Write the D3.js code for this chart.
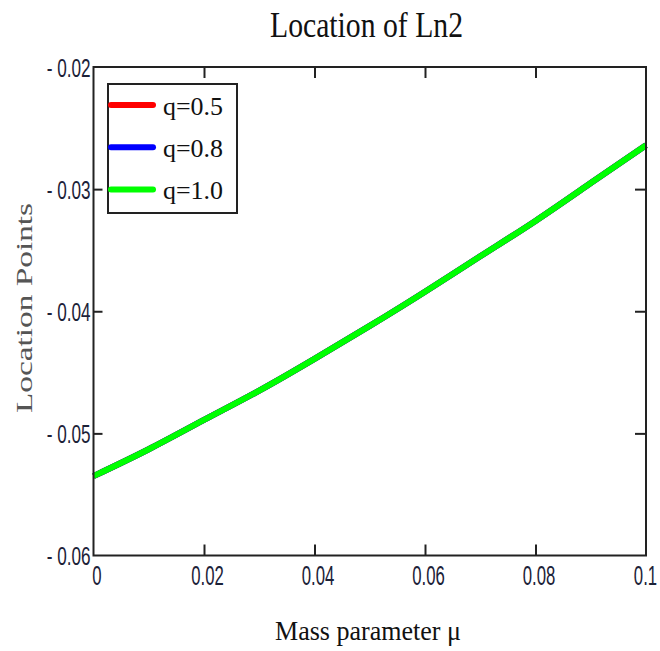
<!DOCTYPE html>
<html>
<head>
<meta charset="utf-8">
<script src="https://cdn.jsdelivr.net/npm/d3@7"></script>
<style>
  body { margin: 0; background: #fff; }
  svg { display: block; }
</style>
</head>
<body>
<div id="chart"></div>
<script>
// dimensions
const width = 660;
const height = 651;
const plot = { left: 93.5, right: 646, top: 67, bottom: 555.5 };

// data - the three curves sit on top of each other
const mu = [0, 0.01, 0.02, 0.03, 0.04, 0.05, 0.06, 0.07, 0.08, 0.09, 0.1];
const q05 = [-0.0535, -0.0513, -0.0489, -0.0465, -0.0439, -0.0412, -0.0384, -0.0355, -0.0326, -0.0295, -0.0264];
const q08 = [-0.0535, -0.0513, -0.0489, -0.0465, -0.0439, -0.0412, -0.0384, -0.0355, -0.0326, -0.0295, -0.0264];
const q10 = [-0.0535, -0.0513, -0.0489, -0.0465, -0.0439, -0.0412, -0.0384, -0.0355, -0.0326, -0.0295, -0.0264];
const seriesNames = ["q=0.5", "q=0.8", "q=1.0"];
const seriesColors = ["#ff0000", "#0000ff", "#00ff00"];
const xTicks = [0, 0.02, 0.04, 0.06, 0.08, 0.1];
const yTicks = [-0.06, -0.05, -0.04, -0.03, -0.02];

const series = [q05, q08, q10].map((vals, i) => ({
    name: seriesNames[i],
    color: seriesColors[i],
    points: vals.map((v, j) => [mu[j], v])
}));

const x = d3.scaleLinear().domain([0, 0.1]).range([plot.left, plot.right]);
const y = d3.scaleLinear().domain([-0.06, -0.02]).range([plot.bottom, plot.top]);

const svg = d3.select("#chart").append("svg")
    .attr("width", width)
    .attr("height", height);

const ink = "#222";
const labelInk = "#1c2238";

// ---- axes (ticks inside, on all four sides) ----
const xFmt = d => d === 0 ? "0" : d3.format(".2~f")(d);
const yFmt = d => "- " + d3.format(".2f")(-d);

const bottomAxis = svg.append("g")
    .attr("transform", `translate(0,${plot.bottom})`)
    .call(d3.axisBottom(x).tickValues(xTicks).tickFormat(xFmt).tickSizeInner(-11).tickSizeOuter(0).tickPadding(0));
bottomAxis.selectAll("text")
    .attr("y", 30)
    .attr("dy", 0)
    .attr("transform", d => d === 0.1 ? "translate(-1,0) scale(0.62,1)" : "translate(3,0) scale(0.62,1)")
    .style("font-family", "'Liberation Sans', Arial, sans-serif")
    .style("font-size", "27px")
    .attr("fill", labelInk);

const topAxis = svg.append("g")
    .attr("transform", `translate(0,${plot.top})`)
    .call(d3.axisTop(x).tickValues(xTicks).tickFormat("").tickSizeInner(-11).tickSizeOuter(0));

const leftAxis = svg.append("g")
    .attr("transform", `translate(${plot.left},0)`)
    .call(d3.axisLeft(y).tickValues(yTicks).tickFormat(yFmt).tickSizeInner(-9).tickSizeOuter(0).tickPadding(0));
leftAxis.selectAll("text")
    .attr("x", -3 / 0.66)
    .attr("dy", "0.36em")
    .attr("transform", "scale(0.66,1)")
    .style("font-family", "'Liberation Sans', Arial, sans-serif")
    .style("font-size", "26px")
    .attr("fill", labelInk);

const rightAxis = svg.append("g")
    .attr("transform", `translate(${plot.right},0)`)
    .call(d3.axisRight(y).tickValues(yTicks).tickFormat("").tickSizeInner(-11).tickSizeOuter(0));

svg.selectAll(".domain").remove();
svg.selectAll(".tick line").attr("stroke", ink).attr("stroke-width", 2);
// no tick marks on the frame corners
svg.selectAll(".tick").filter(d => d === 0 || d === 0.1 || d === -0.06 || d === -0.02)
    .select("line").remove();

// ---- curves ----
const line = d3.line().x(d => x(d[0])).y(d => y(d[1])).curve(d3.curveNatural);

svg.append("g")
    .selectAll("path")
    .data(series)
    .join("path")
    .attr("d", d => line(d.points))
    .attr("fill", "none")
    .attr("stroke", d => d.color)
    .attr("stroke-width", 6);

// frame
svg.append("rect")
    .attr("x", plot.left)
    .attr("y", plot.top)
    .attr("width", plot.right - plot.left)
    .attr("height", plot.bottom - plot.top)
    .attr("fill", "none")
    .attr("stroke", ink)
    .attr("stroke-width", 2);

// ---- legend ----
const legend = svg.append("g").attr("transform", "translate(108,84)");
legend.append("rect")
    .attr("width", 129)
    .attr("height", 129)
    .attr("fill", "#fff")
    .attr("stroke", ink)
    .attr("stroke-width", 2);

const item = legend.selectAll("g.item")
    .data(series)
    .join("g")
    .attr("class", "item")
    .attr("transform", (d, i) => `translate(0,${21 + i * 42.2})`);

item.append("line")
    .attr("x1", 3).attr("x2", 45)
    .attr("stroke", d => d.color)
    .attr("stroke-width", 6)
    .attr("stroke-linecap", "round");

item.append("text")
    .attr("x", 55)
    .attr("y", 10)
    .attr("textLength", 60)
    .attr("lengthAdjust", "spacingAndGlyphs")
    .style("font-family", "'Liberation Serif', 'Times New Roman', serif")
    .style("font-size", "25px")
    .attr("fill", "#111")
    .text(d => d.name);

// ---- titles ----
svg.append("text")
    .attr("x", 366.5)
    .attr("y", 37)
    .attr("text-anchor", "middle")
    .attr("textLength", 193)
    .attr("lengthAdjust", "spacingAndGlyphs")
    .style("font-family", "'Liberation Serif', 'Times New Roman', serif")
    .style("font-size", "36px")
    .attr("fill", "#111")
    .text("Location of Ln2");

svg.append("text")
    .attr("x", 368)
    .attr("y", 640)
    .attr("text-anchor", "middle")
    .attr("textLength", 186)
    .attr("lengthAdjust", "spacingAndGlyphs")
    .style("font-family", "'Liberation Serif', 'Times New Roman', serif")
    .style("font-size", "27px")
    .attr("fill", "#111")
    .text("Mass parameter μ");

svg.append("text")
    .attr("transform", "translate(32,308) scale(0.75,1) rotate(-90)")
    .attr("text-anchor", "middle")
    .attr("textLength", 210)
    .attr("lengthAdjust", "spacingAndGlyphs")
    .style("font-family", "'Liberation Serif', 'Times New Roman', serif")
    .style("font-size", "32px")
    .attr("fill", "#555")
    .text("Location Points");
</script>
</body>
</html>
